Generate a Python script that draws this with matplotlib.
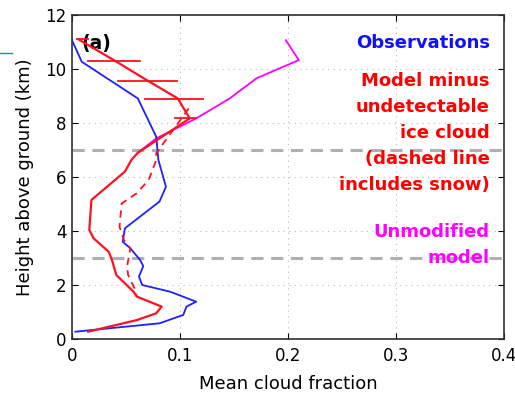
import numpy as np
import matplotlib
matplotlib.use("Agg")
from matplotlib import pyplot as plt

# observations (blue)
obs_x = [0.000, 0.009, 0.061, 0.078, 0.080, 0.087, 0.081, 0.049, 0.047, 0.054, 0.063,
         0.066, 0.062, 0.065, 0.091, 0.115, 0.106, 0.103, 0.081, 0.003]
obs_h = [11.07, 10.27, 8.91, 7.49, 6.63, 5.64, 5.09, 4.10, 3.60, 3.36, 2.93,
         2.70, 2.31, 2.00, 1.75, 1.38, 1.20, 0.89, 0.58, 0.27]

# model minus undetectable ice (red solid)
mod_x = [0.006, 0.040, 0.070, 0.098, 0.109, 0.061, 0.055, 0.049, 0.018, 0.016, 0.020, 0.034,
         0.037, 0.041, 0.057, 0.060, 0.083, 0.078, 0.060, 0.015]
mod_h = [11.10, 10.30, 9.57, 8.91, 8.17, 6.90, 6.63, 6.20, 5.15, 4.04, 3.73, 3.23,
         2.93, 2.37, 1.75, 1.57, 1.20, 0.95, 0.70, 0.27]

# error bars on the red line
err_h = [11.10, 10.30, 9.57, 8.88, 8.17]
err_c = [0.010, 0.039, 0.070, 0.0945, 0.105]
err_w = [0.005, 0.024, 0.027, 0.027, 0.010]

# dashed red (includes snow)
snow_x = [0.108, 0.089, 0.078, 0.078, 0.071, 0.060, 0.046, 0.044, 0.048, 0.054, 0.051,
          0.052, 0.058, 0.060]
snow_h = [8.54, 7.49, 6.88, 6.63, 5.89, 5.40, 5.02, 4.16, 3.67, 3.36, 2.68,
          2.37, 1.87, 1.57]

# unmodified model (magenta)
unmod_x = [0.198, 0.210, 0.171, 0.146, 0.115, 0.078, 0.061]
unmod_h = [11.07, 10.33, 9.66, 8.91, 8.17, 7.43, 6.90]

plt.rcParams['font.family'] = ['DejaVu Sans']

fig = plt.figure(figsize=(5.15, 3.96), dpi=100)
ax = fig.add_axes([0.1398, 0.144, 0.8388, 0.818])

ax.axhline(7, color='#b0b0b0', lw=2.2, ls=(0, (4, 2.5)), zorder=1)
ax.axhline(3, color='#b0b0b0', lw=2.2, ls=(0, (4, 2.5)), zorder=1)

ax.plot(unmod_x, unmod_h, color='#ff00ff', lw=1.3, zorder=2)
ax.plot(obs_x, obs_h, color='#2020ff', lw=1.3, zorder=3)
ax.plot(mod_x, mod_h, color='#ff1020', lw=1.6, zorder=4)
ax.plot(snow_x, snow_h, color='#ff1020', lw=1.3, ls=(0, (4, 3)), zorder=4)
for h, c, w in zip(err_h, err_c, err_w):
    ax.plot([c - w, c + w], [h, h], color='#ff1020', lw=1.3, zorder=4)

ax.set_xlim(0, 0.4)
ax.set_ylim(0, 12)
ax.set_xticks([0, 0.1, 0.2, 0.3, 0.4])
ax.set_xticklabels(['0', '0.1', '0.2', '0.3', '0.4'])
ax.set_yticks(range(0, 13, 2))
ax.grid(True, color='#b8b8b8', ls=(0, (1, 4)), lw=0.8)
ax.tick_params(direction='in', top=True, right=True, labelsize=12, length=4)
ax.tick_params(axis='x', pad=6)
ax.tick_params(axis='y', pad=4)
for s in ax.spines.values():
    s.set_linewidth(1.2)
    s.set_color('#303030')
ax.set_xlabel('Mean cloud fraction', fontsize=13, labelpad=7)
ax.set_ylabel('Height above ground (km)', fontsize=13, labelpad=8)

ax.text(0.009, 10.96, '(a)', fontsize=13.5, fontweight='bold', va='center', ha='left')
tx = 0.387
ax.text(tx, 10.96, 'Observations', color='#1010ff', fontsize=13, fontweight='bold',
        ha='right', va='center')
ax.text(tx, 7.63, 'Model minus\nundetectable\nice cloud\n(dashed line\nincludes snow)',
        color='#ff0000', fontsize=13, fontweight='bold', ha='right', va='center',
        linespacing=1.58)
ax.text(tx, 3.48, 'Unmodified\nmodel', color='#ff00ff', fontsize=13, fontweight='bold',
        ha='right', va='center', linespacing=1.58)

fig.add_artist(plt.Line2D([0, 12 / 515], [1 - 52.5 / 396, 1 - 52.5 / 396], color='#3a78e0', lw=1.0))

fig.savefig('out.png', dpi=100)
